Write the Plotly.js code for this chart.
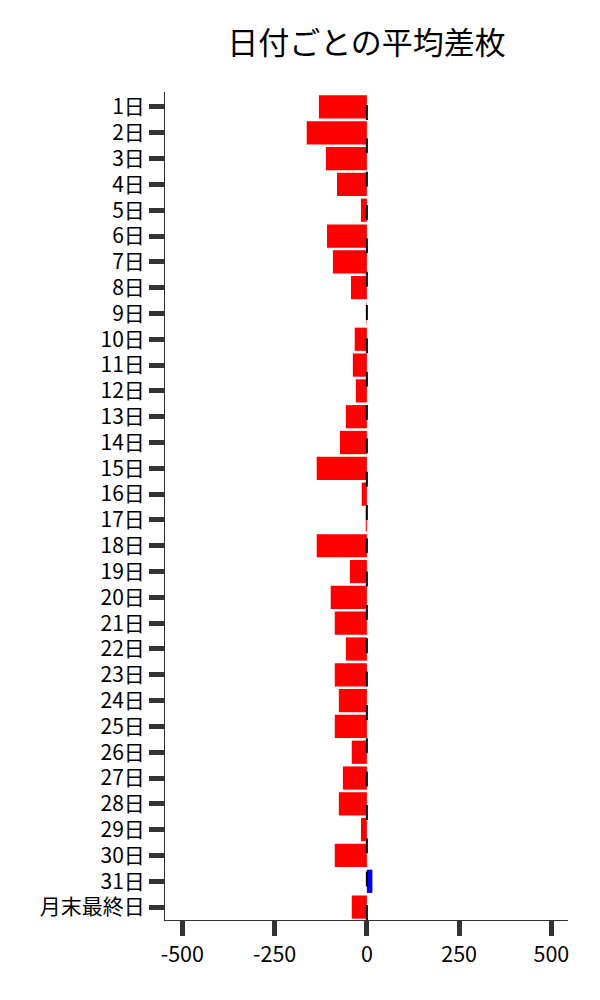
<!DOCTYPE html>
<html>
<head>
<meta charset="utf-8">
<script src="https://cdn.plot.ly/plotly-3.0.1.min.js"></script>
<style>html,body{margin:0;padding:0;background:#fff;}#chart{width:600px;height:1000px;}</style>
</head>
<body>
<div id="chart"></div>
<script>
const categories = ['1日','2日','3日','4日','5日','6日','7日','8日','9日','10日',
  '11日','12日','13日','14日','15日','16日','17日','18日','19日','20日',
  '21日','22日','23日','24日','25日','26日','27日','28日','29日','30日','31日','月末最終日'];
const avgDiff = [-130,-163,-111,-81,-16,-108,-92,-43,-1,-33,
  -38,-30,-57,-73,-136,-14,-3,-136,-46,-98,
  -87,-57,-87,-76,-87,-41,-65,-76,-16,-87,15,-41];
const xTicks = [-500,-250,0,250,500];
const xTickLabels = ['-500','-250','0','250','500'];

const FONT = '"Noto Sans CJK JP", "Noto Sans", sans-serif';
const colors = avgDiff.map(v => v < 0 ? '#ff0000' : '#0000ff');

const trace = {
  type: 'bar',
  orientation: 'h',
  x: avgDiff,
  y: categories,
  marker: {color: colors, line: {width: 0}},
  width: 0.9,
  hoverinfo: 'x+y'
};

const layout = {
  width: 600, height: 1000,
  margin: {l: 165, r: 32, t: 92, b: 80},
  paper_bgcolor: '#fff', plot_bgcolor: '#fff',
  font: {family: FONT, size: 21, color: '#000'},
  showlegend: false,
  bargap: 0.1,
  title: {
    text: '日付ごとの平均差枚',
    font: {family: FONT, size: 31, color: '#000'},
    xref: 'paper', x: 0.5, xanchor: 'center',
    yref: 'container', y: 0.957, yanchor: 'middle'
  },
  xaxis: {
    range: [-547, 545],
    tickvals: xTicks, ticktext: xTickLabels,
    ticks: 'outside', ticklen: 15, tickwidth: 5, tickcolor: '#333',
    showgrid: false, zeroline: false,
    showline: true, linecolor: '#333', linewidth: 1,
    tickfont: {family: FONT, size: 21.5, color: '#000'}
  },
  yaxis: {
    type: 'category',
    categoryorder: 'array', categoryarray: categories,
    range: [31.5, -0.58],
    ticks: 'outside', ticklen: 15, tickwidth: 5, tickcolor: '#333',
    showgrid: false, zeroline: false,
    showline: true, linecolor: '#333', linewidth: 1,
    tickfont: {family: FONT, size: 21, color: '#000'}
  },
  shapes: [{
    type: 'line', layer: 'above',
    xref: 'x', x0: 0, x1: 0,
    yref: 'paper', y0: 0.9843, y1: 0,
    line: {color: '#000', width: 2, dash: '15px,18.33px'}
  }]
};

Plotly.newPlot('chart', [trace], layout, {displayModeBar: false, staticPlot: true});
</script>
</body>
</html>
